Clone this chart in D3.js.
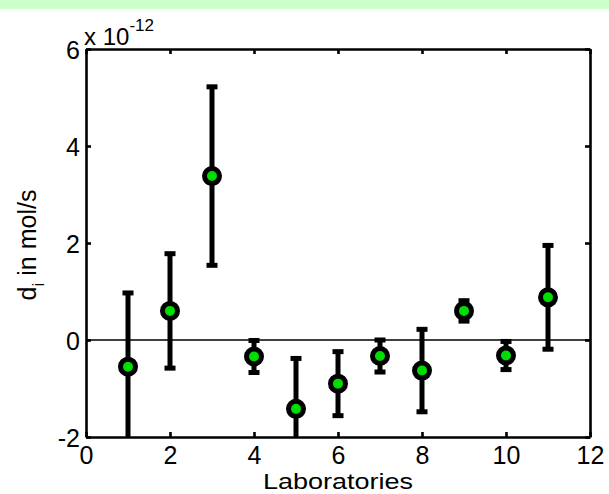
<!DOCTYPE html>
<html>
<head>
<meta charset="utf-8">
<script src="https://cdn.jsdelivr.net/npm/d3@7"></script>
<style>
  body { margin: 0; background: #fff; }
  svg { display: block; }
  text { font-family: "Liberation Sans", Arial, sans-serif; fill: #000; }
</style>
</head>
<body>
<div id="chart"></div>
<script>
// laboratories and their deviations d_i (x 10^-12 mol/s) with half-widths of the error bars
var labs = [1, 2, 3, 4, 5, 6, 7, 8, 9, 10, 11];
var dValues = [-0.55, 0.60, 3.38, -0.34, -1.42, -0.90, -0.33, -0.63, 0.60, -0.32, 0.88];
var dErrors = [1.52, 1.18, 1.84, 0.33, 1.04, 0.66, 0.33, 0.85, 0.21, 0.29, 1.07];
var xTicks = [0, 2, 4, 6, 8, 10, 12];
var yTicks = [-2, 0, 2, 4, 6];

var width = 609, height = 494;
var margins = {top: 49, right: 19, bottom: 57, left: 86};

var svg = d3.select("#chart").append("svg")
    .attr("width", width)
    .attr("height", height);

// light green strip along the top edge
svg.append("rect")
    .attr("x", 0).attr("y", 0)
    .attr("width", width).attr("height", 9)
    .attr("fill", "#ccffcc");

var x = d3.scaleLinear().domain([0, 12]).range([margins.left, width - margins.right]);
var y = d3.scaleLinear().domain([-2, 6]).range([height - margins.bottom, margins.top]);

svg.append("clipPath").attr("id", "plotClip")
  .append("rect")
    .attr("x", x(0)).attr("y", y(6))
    .attr("width", x(12) - x(0)).attr("height", y(-2) - y(6));

// zero line
svg.append("line")
    .attr("x1", x(0)).attr("x2", x(12))
    .attr("y1", y(0)).attr("y2", y(0))
    .attr("stroke", "#000")
    .attr("stroke-width", 1.6);

var plot = svg.append("g").attr("clip-path", "url(#plotClip)");

var data = labs.map(function(d, i) { return {lab: d, v: dValues[i], e: dErrors[i]}; });

// error bars
plot.selectAll("line.err")
    .data(data)
    .enter().append("line")
    .attr("class", "err")
    .attr("x1", function(d) { return x(d.lab); })
    .attr("x2", function(d) { return x(d.lab); })
    .attr("y1", function(d) { return y(d.v - d.e); })
    .attr("y2", function(d) { return y(d.v + d.e); })
    .attr("stroke", "#000")
    .attr("stroke-width", 5);

// caps
var caps = [];
data.forEach(function(d) {
    caps.push({lab: d.lab, val: d.v + d.e});
    caps.push({lab: d.lab, val: d.v - d.e});
});
plot.selectAll("rect.cap")
    .data(caps)
    .enter().append("rect")
    .attr("class", "cap")
    .attr("x", function(d) { return x(d.lab) - 5.5; })
    .attr("y", function(d) { return y(d.val) - 2.5; })
    .attr("width", 11)
    .attr("height", 5)
    .attr("fill", "#000");

// markers
plot.selectAll("circle")
    .data(data)
    .enter().append("circle")
    .attr("cx", function(d) { return x(d.lab); })
    .attr("cy", function(d) { return y(d.v); })
    .attr("r", 7.5)
    .attr("fill", "#00dd00")
    .attr("stroke", "#000")
    .attr("stroke-width", 5);

// axes with inward ticks, plain hyphen for negatives like the original
var fmt = function(d) { return String(d); };
var bottomAxis = svg.append("g")
    .attr("transform", "translate(0," + y(-2) + ")")
    .call(d3.axisBottom(x).tickValues(xTicks).tickFormat(fmt).tickSizeInner(-5).tickSizeOuter(0).tickPadding(9));
var topAxis = svg.append("g")
    .attr("transform", "translate(0," + y(6) + ")")
    .call(d3.axisTop(x).tickValues(xTicks).tickSizeInner(-5).tickSizeOuter(0).tickFormat(""));
var leftAxis = svg.append("g")
    .attr("transform", "translate(" + x(0) + ",0)")
    .call(d3.axisLeft(y).tickValues(yTicks).tickFormat(fmt).tickSizeInner(-5).tickSizeOuter(0).tickPadding(6));
var rightAxis = svg.append("g")
    .attr("transform", "translate(" + x(12) + ",0)")
    .call(d3.axisRight(y).tickValues(yTicks).tickSizeInner(-5).tickSizeOuter(0).tickFormat(""));

[bottomAxis, topAxis, leftAxis, rightAxis].forEach(function(g) {
    g.select(".domain").attr("stroke", "#000").attr("stroke-width", 2.6);
    g.selectAll(".tick line").attr("stroke", "#000").attr("stroke-width", 2.6);
    g.selectAll(".tick text")
        .style("font-family", "'Liberation Sans', Arial, sans-serif")
        .style("font-size", "25px")
        .attr("fill", "#000");
});
bottomAxis.selectAll(".tick text").attr("dy", "0.72em");
leftAxis.selectAll(".tick text").attr("dy", "0.36em");

// exponent label
var expo = svg.append("text")
    .attr("x", 84)
    .attr("y", 45)
    .style("font-size", "24px");
expo.append("tspan").text("x 10");
expo.append("tspan")
    .attr("dy", -14)
    .style("font-size", "17px")
    .text("-12");

// x label
svg.append("text")
    .attr("x", (x(0) + x(12)) / 2)
    .attr("y", 489)
    .attr("text-anchor", "middle")
    .attr("textLength", 150)
    .attr("lengthAdjust", "spacingAndGlyphs")
    .style("font-size", "22px")
    .text("Laboratories");

// y label
var yl = svg.append("text")
    .attr("transform", "translate(36," + (y(2) + 2) + ") rotate(-90)")
    .attr("text-anchor", "middle")
    .style("font-size", "25px");
yl.append("tspan").text("d");
yl.append("tspan").attr("dy", 8).style("font-size", "17px").text("i");
yl.append("tspan").attr("dy", -8).text(" in mol/s");
</script>
</body>
</html>
